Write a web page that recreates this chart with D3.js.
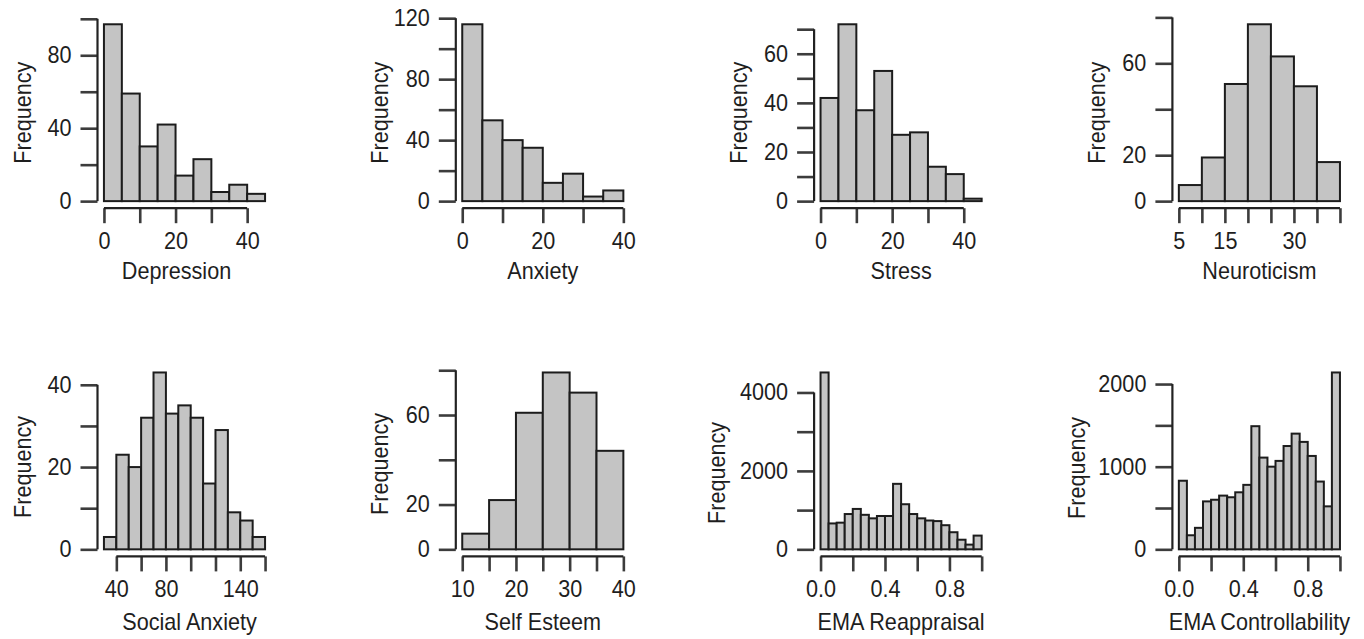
<!DOCTYPE html>
<html>
<head>
<meta charset="utf-8">
<script src="https://cdn.jsdelivr.net/npm/d3@7"></script>
<style>
  body { margin: 0; background: #fff; }
  text { font-family: "Liberation Sans", Arial, sans-serif; fill: #1e1e1e; }
</style>
</head>
<body>
<div id="chart"></div>
<script>
// titres des histogrammes
const titles = ['Depression', 'Anxiety', 'Stress', 'Neuroticism',
                'Social Anxiety', 'Self Esteem', 'EMA Reappraisal', 'EMA Controllability'];

// debut des classes et largeur des classes
const binStarts = [0, 0, 0, 5, 30, 10, 0, 0];
const binWidths = [5, 5, 5, 5, 10, 5, 0.05, 0.05];

// frequences
const depression = [97, 59, 30, 42, 14, 23, 5, 9, 4];
const anxiety = [116, 53, 40, 35, 12, 18, 3, 7];
const stress = [42, 72, 37, 53, 27, 28, 14, 11, 1];
const neuroticism = [7, 19, 51, 77, 63, 50, 17];
const socialAnxiety = [3, 23, 20, 32, 43, 33, 35, 32, 16, 29, 9, 7, 3];
const selfEsteem = [7, 22, 61, 79, 70, 44];
const emaReappraisal = [4510, 660, 680, 900, 1030, 880, 790, 850, 850, 1670,
                        1150, 900, 790, 735, 720, 615, 436, 245, 120, 350];
const emaControllability = [830, 170, 260, 580, 600, 650, 630, 690, 780, 1490,
                            1110, 1000, 1070, 1250, 1400, 1300, 1130, 820, 520, 2140];

// graduations
const xTicks = [
    [0, 10, 20, 30, 40], [0, 10, 20, 30, 40], [0, 10, 20, 30, 40], [5, 10, 15, 20, 25, 30, 35, 40],
    [40, 60, 80, 100, 120, 140, 160], [10, 15, 20, 25, 30, 35, 40],
    [0, 0.2, 0.4, 0.6, 0.8, 1.0], [0, 0.2, 0.4, 0.6, 0.8, 1.0]
];
const xTickLabels = [
    [0, 20, 40], [0, 20, 40], [0, 20, 40], [5, 15, 30],
    [40, 80, 140], [10, 20, 30, 40], [0, 0.4, 0.8], [0, 0.4, 0.8]
];
const yTicks = [
    [0, 20, 40, 60, 80, 100], [0, 20, 40, 60, 80, 100, 120], [0, 10, 20, 30, 40, 50, 60, 70], [0, 20, 40, 60, 80],
    [0, 10, 20, 30, 40], [0, 20, 40, 60, 80], [0, 1000, 2000, 3000, 4000], [0, 500, 1000, 1500, 2000]
];
const yTickLabels = [
    [0, 40, 80], [0, 40, 80, 120], [0, 20, 40, 60], [0, 20, 60],
    [0, 20, 40], [0, 20, 60], [0, 2000, 4000], [0, 1000, 2000]
];

const allCounts = [depression, anxiety, stress, neuroticism, socialAnxiety, selfEsteem, emaReappraisal, emaControllability];

// mise en page
const plotLeft = 97.5, colStep = 358.3, plotW = 174;
const plotTop = 17.2, rowStep = 348.2, plotH = 191;
const fontSize = 23, squeeze = 0.94; // police etroite imitee par un ecrasement horizontal
const yLabDist = [67, 68, 67, 67, 67, 68, 89, 87];   // distance du titre "Frequency" a l'axe
const yLabShift = [0, 0, 0, 0, 6, 3, 12, 7];        // decalage vertical de ce titre
const xLabShift = [-8, 0, 0, 0, 5, 0, 0, 0];        // decalage horizontal du titre de l'axe x

const svg = d3.select('#chart').append('svg')
    .attr('width', 1364)
    .attr('height', 639);

function drawPanel(i) {
    const counts = allCounts[i];
    const start = binStarts[i], w = binWidths[i];
    const end = start + counts.length * w;
    const pad = 0.04 * (end - start);
    const ymax = d3.max(counts);

    const col = i % 4, row = Math.floor(i / 4);
    const g = svg.append('g')
        .attr('transform', `translate(${plotLeft + col * colStep},${plotTop + row * rowStep})`);

    const x = d3.scaleLinear().domain([start - pad, end + pad]).range([0, plotW]);
    const y = d3.scaleLinear().domain([-0.04 * ymax, 1.04 * ymax]).range([plotH, 0]);

    const bins = counts.map((c, k) => ({ x0: start + k * w, x1: start + (k + 1) * w, n: c }));

    g.selectAll('.bar')
        .data(bins)
        .enter().append('rect')
        .attr('class', 'bar')
        .attr('x', d => x(d.x0))
        .attr('y', d => y(d.n))
        .attr('width', d => x(d.x1) - x(d.x0))
        .attr('height', d => y(0) - y(d.n))
        .attr('fill', '#c4c4c4')
        .attr('stroke', '#1c1c1c')
        .attr('stroke-width', 2);

    const fmt = w < 1 ? d3.format('.1f') : d3.format('d');
    const hasLabel = (list, v) => list.some(l => Math.abs(l - v) < 1e-9);

    // axe x
    const xa = g.append('g')
        .attr('transform', `translate(0,${plotH})`)
        .call(d3.axisBottom(x)
            .tickValues(xTicks[i])
            .tickSize(15)
            .tickPadding(9)
            .tickFormat(d => hasLabel(xTickLabels[i], d) ? fmt(d) : ''));
    xa.select('.domain').remove();
    xa.append('line')
        .attr('x1', x(xTicks[i][0]))
        .attr('x2', x(xTicks[i][xTicks[i].length - 1]))
        .attr('stroke', '#222').attr('stroke-width', 2.2);
    xa.selectAll('.tick text').attr('transform', `scale(${squeeze},1)`);

    // axe y
    const ya = g.append('g')
        .call(d3.axisLeft(y)
            .tickValues(yTicks[i])
            .tickSize(17)
            .tickPadding(9)
            .tickFormat(d => hasLabel(yTickLabels[i], d) ? d3.format('d')(d) : ''));
    ya.select('.domain').remove();
    ya.append('line')
        .attr('y1', y(yTicks[i][0]))
        .attr('y2', y(yTicks[i][yTicks[i].length - 1]))
        .attr('stroke', '#222').attr('stroke-width', 2.2);
    ya.selectAll('.tick text')
        .attr('x', 0)
        .attr('transform', `translate(-26,0) scale(${squeeze},1)`);

    g.selectAll('.tick line').attr('stroke', '#3c3c3c').attr('stroke-width', 2.6);
    g.selectAll('.tick text')
        .attr('fill', '#1e1e1e')
        .attr('font-family', null)
        .attr('font-size', null)
        .style('font-size', fontSize + 'px');

    // titres des axes
    g.append('text')
        .attr('transform', `translate(${plotW / 2 + xLabShift[i]},${plotH + 71 + row * 2.5}) scale(${squeeze},1)`)
        .attr('text-anchor', 'middle')
        .style('font-size', fontSize + 'px')
        .text(titles[i]);

    g.append('text')
        .attr('transform', `translate(${-yLabDist[i]},${plotH / 2 + yLabShift[i]}) rotate(-90) scale(${squeeze},1)`)
        .attr('text-anchor', 'middle')
        .style('font-size', fontSize + 'px')
        .text('Frequency');
}

allCounts.forEach((c, i) => drawPanel(i));
</script>
</body>
</html>
